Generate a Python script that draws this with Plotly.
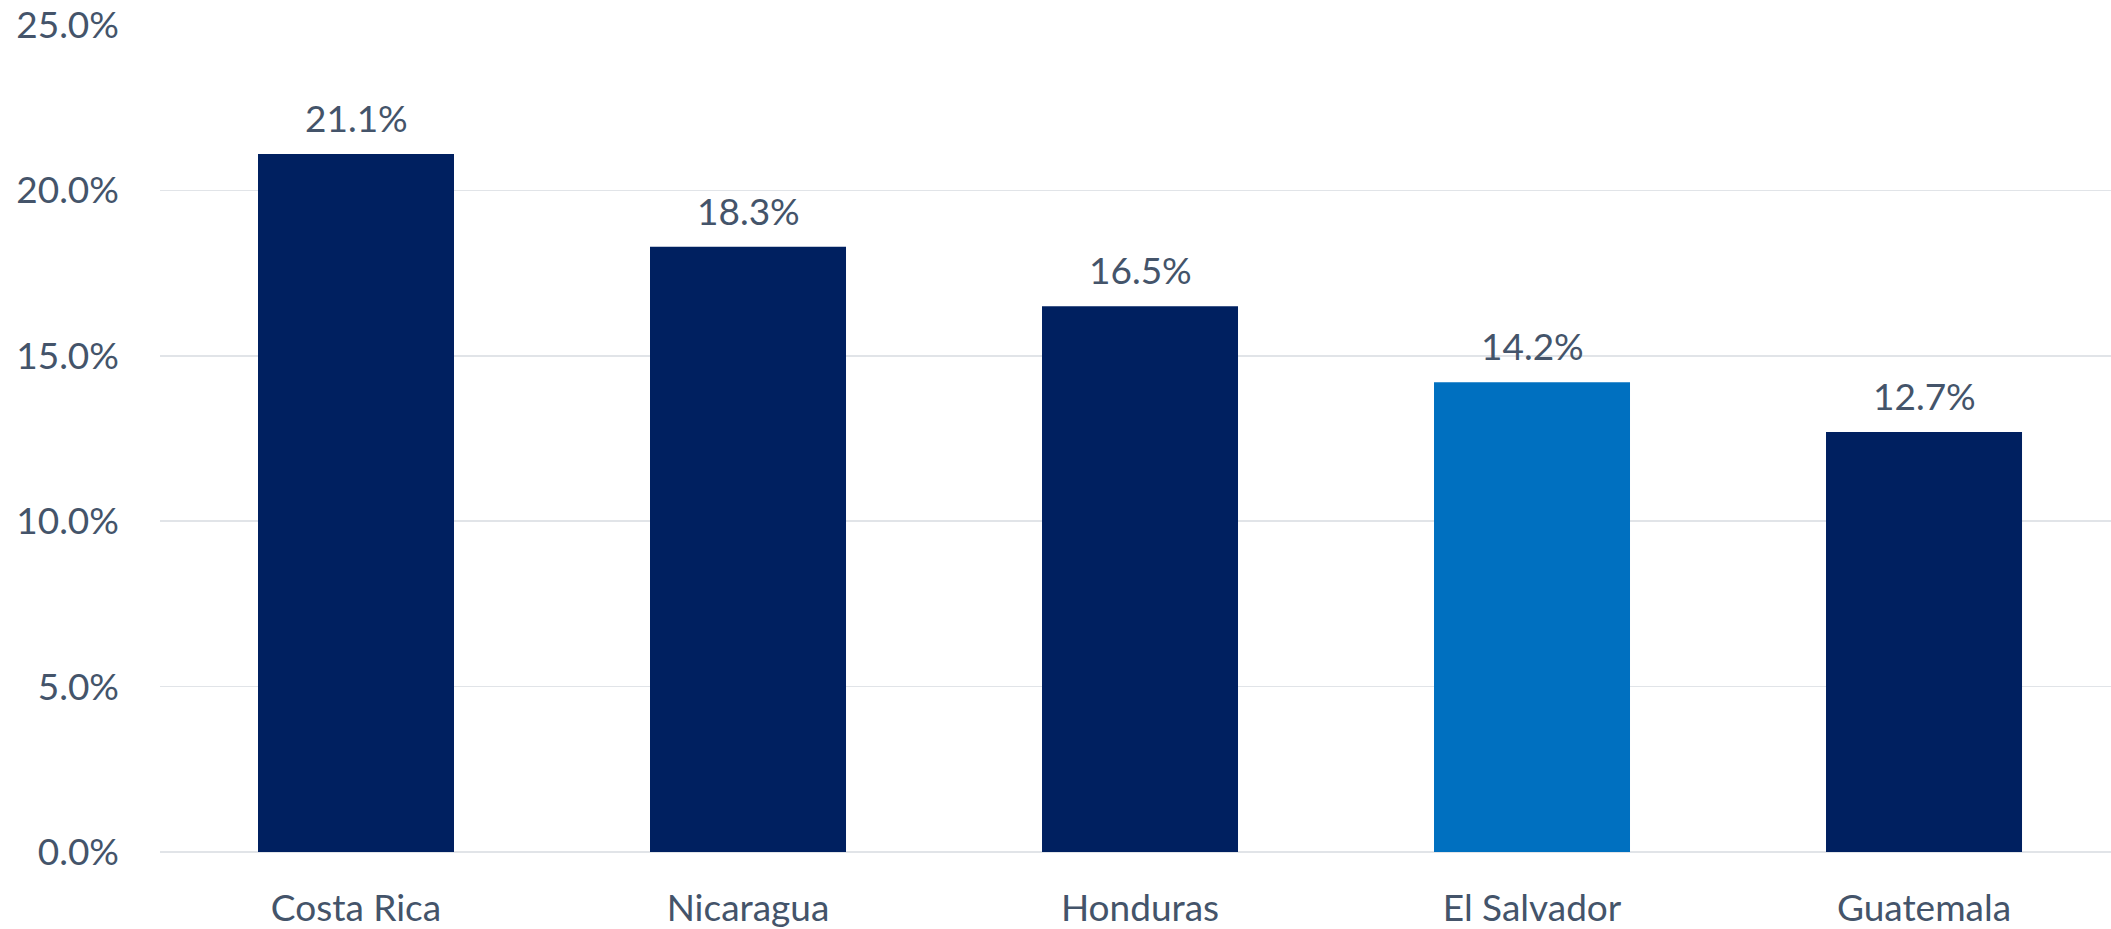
import plotly.graph_objects as go

countries = ["Costa Rica", "Nicaragua", "Honduras", "El Salvador", "Guatemala"]
values = [0.211, 0.183, 0.165, 0.142, 0.127]
colors = ["#002060", "#002060", "#002060", "#0070C0", "#002060"]

FONT = "Lato"
TXT = "#44546A"

fig = go.Figure(go.Bar(
    x=countries, y=values, marker=dict(color=colors, line=dict(width=0)),
    width=0.5, hoverinfo="skip",
))

for c, v in zip(countries, values):
    fig.add_annotation(x=c, y=v, text=f"{v*100:.1f}%", showarrow=False,
                       yanchor="bottom", yshift=12,
                       font=dict(family=FONT, size=37, color=TXT))

fig.update_layout(
    width=2111, height=929,
    margin=dict(l=160, r=0, t=25, b=77, autoexpand=False),
    plot_bgcolor="white", paper_bgcolor="white",
    showlegend=False,
    font=dict(family=FONT, size=37, color=TXT),
)
fig.update_xaxes(range=[-0.5, 4.477], showgrid=False, showline=False,
                 ticks="", tickfont=dict(family=FONT, size=37, color=TXT),
                 ticklabelstandoff=31, automargin=False)
fig.update_yaxes(range=[0, 0.25], dtick=0.05, tickformat=".1%",
                 showgrid=True, gridcolor="#E1E4E8", gridwidth=1.5,
                 zeroline=True, zerolinecolor="#E1E4E8", zerolinewidth=1.5,
                 showline=False, ticks="",
                 tickfont=dict(family=FONT, size=37, color=TXT),
                 ticklabelstandoff=40, automargin=False)

fig.write_html("out.html",
               config={"displayModeBar": False, "staticPlot": True},
               post_script="document.body.style.margin='0';document.body.style.overflow='hidden';")
